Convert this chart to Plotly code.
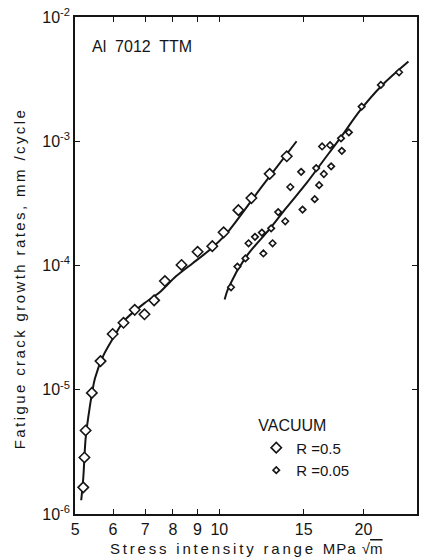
import plotly.graph_objects as go
import math

# R = 0.5 data (large diamonds)
r05_dk = [5.20, 5.23, 5.26, 5.42, 5.65, 5.99, 6.31, 6.66, 6.98, 7.31, 7.70,
          8.34, 9.01, 9.67, 10.21, 10.96, 11.67, 12.74, 13.83]
r05_rate = [1.64e-6, 2.85e-6, 4.70e-6, 9.43e-6, 1.70e-5, 2.81e-5, 3.46e-5,
            4.40e-5, 4.05e-5, 5.24e-5, 7.50e-5, 1.01e-4, 1.29e-4, 1.43e-4,
            1.85e-4, 2.79e-4, 3.49e-4, 5.47e-4, 7.57e-4]

# R = 0.5 fitted curve
fit05_dk = [5.15, 5.20, 5.26, 5.36, 5.50, 5.73, 6.02, 6.32, 6.97, 7.49, 8.12,
            8.80, 9.54, 10.35, 12.29, 14.5]
fit05_rate = [1.29e-6, 1.93e-6, 4.06e-6, 7.06e-6, 1.23e-5, 1.89e-5, 2.65e-5,
              3.57e-5, 4.96e-5, 6.03e-5, 8.18e-5, 1.044e-4, 1.33e-4, 1.806e-4,
              4.36e-4, 1.0e-3]

# R = 0.05 data (small diamonds)
r005_dk = [10.58, 10.91, 11.34, 11.51, 11.87, 12.27, 12.36, 12.83, 12.92, 13.27,
           13.73, 14.07, 14.82, 14.92, 15.82, 15.93, 16.16, 16.53, 16.39, 17.03,
           17.12, 17.95, 18.02, 18.64, 19.82, 21.74, 23.73]
r005_rate = [6.68e-5, 9.80e-5, 1.14e-4, 1.51e-4, 1.70e-4, 1.84e-4, 1.25e-4,
             1.99e-4, 1.51e-4, 2.69e-4, 2.27e-4, 4.28e-4, 5.67e-4, 2.82e-4,
             3.42e-4, 6.08e-4, 4.43e-4, 5.45e-4, 9.08e-4, 9.29e-4, 6.28e-4,
             1.055e-3, 8.37e-4, 1.18e-3, 1.90e-3, 2.84e-3, 3.59e-3]

# R = 0.05 fitted curve
fit005_dk = [10.26, 10.47, 11.36, 12.73, 13.81, 15.22, 16.41, 17.91, 19.75,
             21.77, 24.82]
fit005_rate = [5.32e-5, 6.72e-5, 1.167e-4, 1.96e-4, 2.92e-4, 4.62e-4, 6.81e-4,
               1.069e-3, 1.803e-3, 2.774e-3, 4.38e-3]

# Axis ticks
x_ticks = [5, 6, 7, 8, 9, 10, 15, 20]
x_ticktext = ["5", "6", "7", "8", "9", "10", "15", "20"]
y_ticks = [1e-6, 1e-5, 1e-4, 1e-3, 1e-2]
y_ticktext = ["10<sup>-6</sup>", "10<sup>-5</sup>", "10<sup>-4</sup>",
              "10<sup>-3</sup>", "10<sup>-2</sup>"]

INK = "#151515"
FONT = "Liberation Sans, Arial, sans-serif"

fig = go.Figure()
fig.add_trace(go.Scatter(x=fit05_dk, y=fit05_rate, mode="lines",
                         line=dict(color=INK, width=2, shape="spline", smoothing=0.8),
                         showlegend=False, hoverinfo="skip"))
fig.add_trace(go.Scatter(x=fit005_dk, y=fit005_rate, mode="lines",
                         line=dict(color=INK, width=2, shape="spline", smoothing=1.0),
                         showlegend=False, hoverinfo="skip"))
fig.add_trace(go.Scatter(x=r05_dk, y=r05_rate, mode="markers", name="R =0.5",
                         marker=dict(symbol="diamond", size=8, color="white",
                                     line=dict(color=INK, width=1.6))))
fig.add_trace(go.Scatter(x=r005_dk, y=r005_rate, mode="markers", name="R =0.05",
                         marker=dict(symbol="diamond", size=5, color="white",
                                     line=dict(color=INK, width=1.6))))

fig.update_layout(
    width=421, height=558,
    margin=dict(l=75, r=2, t=17, b=44),
    paper_bgcolor="white", plot_bgcolor="white",
    font=dict(family=FONT, color=INK, size=15),
    xaxis=dict(type="log", range=[math.log10(4.998), 1.4127],
               tickvals=x_ticks, ticktext=x_ticktext,
               ticks="inside", ticklen=5, tickwidth=1.3, tickcolor=INK,
               showline=True, linecolor=INK, linewidth=1.5, mirror="ticks",
               showgrid=False, zeroline=False,
               tickfont=dict(family=FONT, size=16, color=INK)),
    yaxis=dict(type="log", range=[-6, -2],
               tickvals=y_ticks, ticktext=y_ticktext,
               ticks="inside", ticklen=5, tickwidth=1.3, tickcolor=INK,
               showline=True, linecolor=INK, linewidth=1.5, mirror="ticks",
               showgrid=False, zeroline=False,
               tickfont=dict(family=FONT, size=16, color=INK)),
    legend=dict(x=0.53, y=0.208, xanchor="left", yanchor="top",
                bgcolor="rgba(0,0,0,0)",
                title=dict(text="VACUUM", font=dict(family=FONT, size=16, color=INK)),
                font=dict(family=FONT, size=15, color=INK),
                tracegroupgap=0, itemwidth=30),
    annotations=[
        dict(text="Al  7012  TTM", xref="paper", yref="paper", x=0.044, y=0.94,
             xanchor="left", yanchor="middle", showarrow=False,
             font=dict(family=FONT, size=16, color=INK)),
        dict(text="<span style='letter-spacing:2.8px'>Stress intensity range </span>"
                  "<span style='letter-spacing:1px'>MPa </span>√<span style='text-decoration:overline'>m</span>",
             xref="paper", yref="paper", x=0.5, y=-0.069, xanchor="center",
             yanchor="middle", showarrow=False,
             font=dict(family=FONT, size=15, color=INK)),
        dict(text="<span style='letter-spacing:2.4px'>Fatigue crack growth rates, mm /cycle</span>",
             xref="paper", yref="paper", x=-0.16, y=0.473, xanchor="center",
             yanchor="middle", textangle=-90, showarrow=False,
             font=dict(family=FONT, size=15, color=INK)),
    ],
)

fig.write_html("out.html")
